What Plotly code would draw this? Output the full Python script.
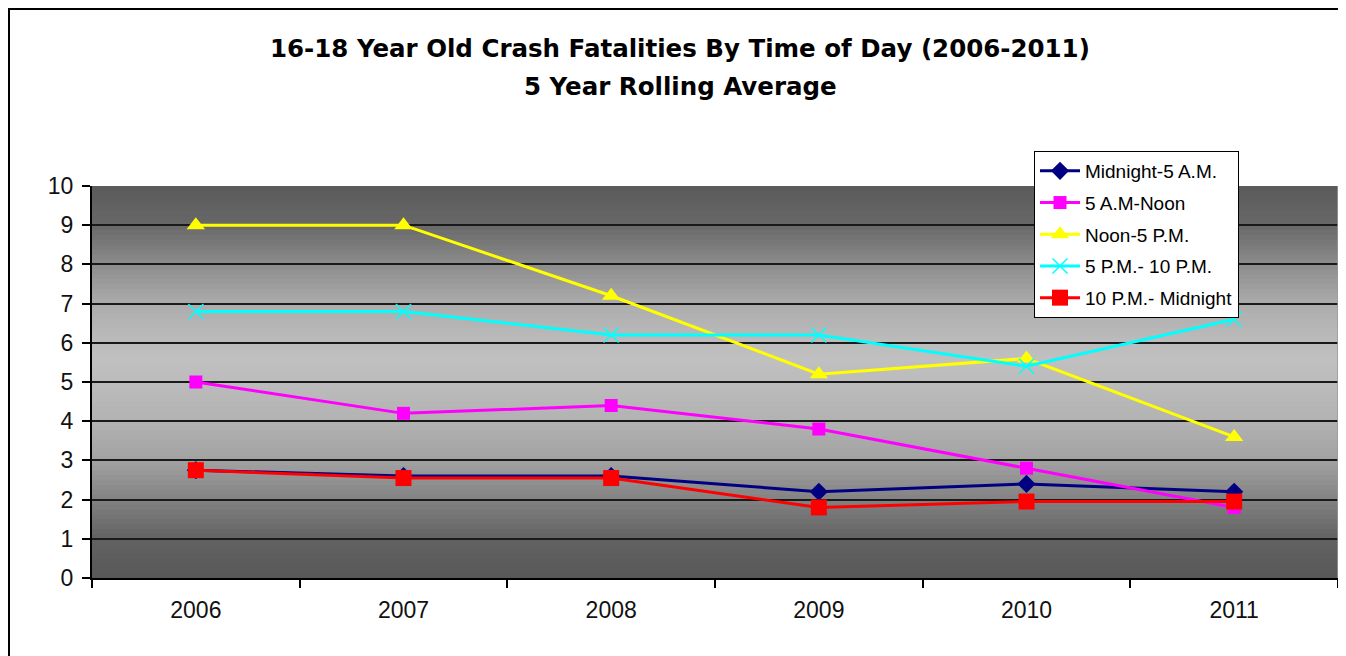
import plotly.graph_objects as go

years = ["2006", "2007", "2008", "2009", "2010", "2011"]
midnight_5am = [2.75, 2.6, 2.6, 2.2, 2.4, 2.2]
am5_noon = [5.0, 4.2, 4.4, 3.8, 2.8, 1.8]
noon_5pm = [9.0, 9.0, 7.2, 5.2, 5.6, 3.6]
pm5_10pm = [6.8, 6.8, 6.2, 6.2, 5.4, 6.6]
pm10_midnight = [2.75, 2.55, 2.55, 1.8, 1.95, 1.95]

series_names = ["Midnight-5 A.M.", "5 A.M-Noon", "Noon-5 P.M.", "5 P.M.- 10 P.M.", "10 P.M.- Midnight"]
y_ticks = list(range(0, 11))

FONT = "Liberation Sans, Arial, sans-serif"
TITLE_FONT = "DejaVu Sans, Verdana, sans-serif"

# plot area in screen pixels (page has an 8px body margin)
PL, PR, PT, PB = 92, 1338, 186, 578
def px(xs):
    return (xs - PL) / (PR - PL)
def py(ys):
    return (PB - ys) / (PB - PT)

fig = go.Figure()

styles = [
    dict(color="#000080", symbol="diamond", size=14),
    dict(color="#FF00FF", symbol="square", size=13),
    dict(color="#FFFF00", symbol="triangle-up", size=16),
    dict(color="#00FFFF", symbol="x-thin", size=15),
    dict(color="#FF0000", symbol="square", size=16),
]
data = [midnight_5am, am5_noon, noon_5pm, pm5_10pm, pm10_midnight]

for i, (name, vals, st) in enumerate(zip(series_names, data, styles)):
    if st["symbol"] == "x-thin":
        marker = dict(symbol="x-thin", size=st["size"], color=st["color"],
                      line=dict(color=st["color"], width=1.5))
    else:
        marker = dict(symbol=st["symbol"], size=st["size"], color=st["color"],
                      line=dict(width=0))
    fig.add_trace(go.Scatter(
        x=years, y=vals, name=name, mode="lines+markers",
        line=dict(color=st["color"], width=3),
        marker=marker, legendgroup=f"g{i}",
    ))

# gradient background (dark - light - dark)
stops = [(0.0, 0x58), (1.0, 0x62), (2.0, 0x82), (3.0, 0xa2), (4.0, 0xb2),
         (5.0, 0xbc), (5.6, 0xc0), (6.0, 0xbc), (7.0, 0xac), (8.0, 0x8c),
         (9.0, 0x68), (10.0, 0x5a)]

def shade(v):
    for (a, ca), (b, cb) in zip(stops[:-1], stops[1:]):
        if a <= v <= b:
            t = (v - a) / (b - a)
            return int(round(ca + (cb - ca) * t))
    return stops[-1][1]

n = 80
shapes = []
for k in range(n):
    y0 = 10 * k / n
    y1 = min(10.0, 10 * (k + 1) / n + 0.08)
    g = shade(10 * (k + 0.5) / n)
    shapes.append(dict(type="rect", xref="x domain", yref="y", x0=0, x1=1,
                       y0=y0, y1=y1, fillcolor=f"rgb({g},{g},{g})",
                       line=dict(width=0), layer="below"))
# right edge of plot area
shapes.append(dict(type="line", xref="x domain", yref="y domain", x0=1, x1=1, y0=0, y1=1,
                   line=dict(color="#9a9a9a", width=1.5)))
# outer chart border
shapes.append(dict(type="rect", xref="paper", yref="paper",
                   x0=px(9), x1=1.2, y0=-0.5, y1=py(9),
                   line=dict(color="black", width=2), fillcolor="rgba(0,0,0,0)", layer="below"))

fig.update_layout(
    width=1338, height=648,
    margin=dict(l=PL - 8, r=1346 - PR, t=PT - 8, b=656 - PB),
    paper_bgcolor="white",
    plot_bgcolor="#a0a0a0",
    font=dict(family=FONT, color="black"),
    shapes=shapes,
    showlegend=True,
    legend=dict(
        x=px(1034), y=py(151), xanchor="left", yanchor="top",
        bgcolor="white", bordercolor="black", borderwidth=1,
        font=dict(size=19, family=FONT, color="black"),
        tracegroupgap=4, itemwidth=40,
    ),
    annotations=[
        dict(text="<b>16-18 Year Old Crash Fatalities By Time of Day (2006-2011)</b>",
             xref="paper", yref="paper", x=px(680), y=py(48),
             xanchor="center", yanchor="middle", showarrow=False,
             font=dict(size=24.5, family=TITLE_FONT)),
        dict(text="<b>5 Year Rolling Average</b>",
             xref="paper", yref="paper", x=px(680), y=py(86),
             xanchor="center", yanchor="middle", showarrow=False,
             font=dict(size=24.5, family=TITLE_FONT)),
    ],
)

fig.update_xaxes(
    type="category", categoryorder="array", categoryarray=years,
    range=[-0.5, 5.5], tickson="boundaries", ticks="outside", ticklen=8,
    tickcolor="black", tickwidth=1.5, showgrid=False, showline=True,
    linecolor="black", linewidth=2,
    tickfont=dict(size=23, family=FONT, color="#111"),
    ticklabelstandoff=10,
)
fig.update_yaxes(
    range=[0, 10], tickvals=y_ticks, ticks="outside", ticklen=8,
    tickcolor="black", tickwidth=1.5, showgrid=True, gridcolor="#1a1a1a", gridwidth=2,
    showline=True, linecolor="black", linewidth=2, zeroline=False,
    tickfont=dict(size=23, family=FONT, color="#111"),
    ticklabelstandoff=4,
)

fig.write_html("out.html")
